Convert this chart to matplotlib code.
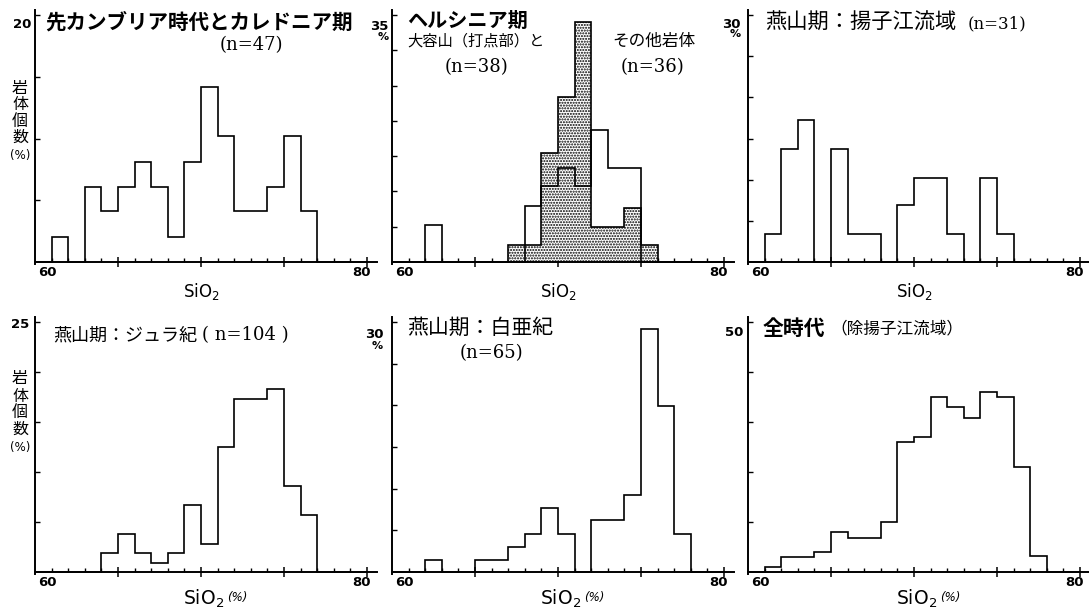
import matplotlib
matplotlib.use("Agg")
import matplotlib.pyplot as plt
import numpy as np

plt.rcParams['font.family'] = ['DejaVu Sans', 'Noto Sans CJK JP']
plt.rcParams['hatch.linewidth'] = 1.0

# ---------------- data (percent of rock bodies per 1 % SiO2 bin) ----------------
edges = list(range(60, 81))   # bins 60-61 ... 79-80
precambrian_caledonian = [0, 2.0, 0, 6.1, 4.1, 6.1, 8.1, 6.1, 2.0, 8.1,
                          14.2, 10.2, 4.1, 4.1, 6.1, 10.2, 4.1, 0, 0, 0]
hercynian_dayongshan = [0, 0, 0, 0, 0, 0, 0, 2.4, 2.4, 15.5,
                        23.4, 34.0, 4.9, 4.9, 7.6, 2.4, 0, 0, 0, 0]
hercynian_others = [0, 0, 5.2, 0, 0, 0, 0, 0, 7.9, 10.7,
                    13.3, 10.7, 18.7, 13.3, 13.3, 0, 0, 0, 0, 0]
yanshan_yangtze = [0, 3.4, 13.7, 17.2, 0, 13.7, 3.4, 3.4, 0, 6.9,
                   10.2, 10.2, 3.4, 0, 10.2, 3.4, 0, 0, 0, 0]
yanshan_jurassic = [0, 0, 0, 0, 1.9, 3.8, 1.9, 0.9, 1.9, 6.7,
                    2.8, 12.5, 17.3, 17.3, 18.3, 8.6, 5.7, 0, 0, 0]
yanshan_cretaceous = [0, 0, 1.5, 0, 0, 1.5, 1.5, 3.0, 4.6, 7.7,
                      4.6, 0, 6.2, 6.2, 9.2, 29.2, 19.9, 4.6, 0, 0]
all_ages = [0, 1.1, 3.0, 3.0, 4.0, 8.1, 6.9, 6.9, 10.1, 26.0,
            27.1, 35.0, 33.0, 30.9, 36.0, 35.0, 21.1, 3.2, 0, 0]

y_max = [20, 35, 30, 25, 30, 50]
y_step = [5, 5, 5, 5, 5, 10]
y_top_label = ["20", "35", "30", "25", "30", "50"]

# ---------------- layout ----------------
W, H = 1089, 611
fig = plt.figure(figsize=(W / 100, H / 100), dpi=100)
JP = 'Noto Sans CJK JP'
SERIF = ['DejaVu Serif', 'Noto Sans CJK JP']
NUM = dict(fontsize=9.5, fontweight='bold')


def fx(px):
    return px / W


def fy(py):
    return 1 - py / H


def ftext(x, y, s, **kw):
    fig.text(fx(x), fy(y), s, **kw)


LW = 1.2
col_x0 = [35, 392, 748]
rows = [(262, 15), (572, 322)]
series = [precambrian_caledonian, None, yanshan_yangtze,
          yanshan_jurassic, yanshan_cretaceous, all_ages]

for i in range(6):
    r, c = divmod(i, 3)
    x0 = col_x0[c]
    y0, yt = rows[r]
    ymax = y_max[i]
    ppu = (y0 - yt) / ymax
    ext_top, ext_bot = 5, 2
    ax = fig.add_axes([fx(x0), fy(y0 + ext_bot), 342 / W,
                       (y0 + ext_bot - (yt - ext_top)) / H])
    ax.set_xlim(60, 80.6)
    ax.set_ylim(-ext_bot / ppu, ymax + ext_top / ppu)
    ax.patch.set_alpha(0)
    for s in ['top', 'right']:
        ax.spines[s].set_visible(False)
    ax.spines['bottom'].set_position(('data', 0))
    ax.spines['left'].set_linewidth(1.4)
    ax.spines['bottom'].set_linewidth(1.4)
    ax.set_xticks([65, 70, 75, 80])
    ax.set_xticks([v for v in range(61, 80) if v % 5], minor=True)
    ax.tick_params(axis='x', which='major', direction='inout', length=7,
                   width=1.1, labelbottom=False)
    ax.tick_params(axis='x', which='minor', direction='in', length=3,
                   width=1.0)
    ax.set_yticks(np.arange(y_step[i], ymax + 0.01, y_step[i]))
    ax.tick_params(axis='y', direction='in', length=3.5, width=1.0,
                   labelleft=False)

    if series[i] is not None:
        ax.stairs(series[i], edges, baseline=0, fill=False,
                  color='black', linewidth=LW, zorder=3)
    else:
        ax.stairs(hercynian_dayongshan, edges, baseline=0, fill=True,
                  facecolor='white', edgecolor='black', hatch='......',
                  linewidth=LW, zorder=2)
        ax.stairs(hercynian_others, edges, baseline=0, fill=False,
                  color='black', linewidth=LW, zorder=3)

    # x tick labels 60 / 80
    ax.annotate("60", xy=(60.75, 0), xytext=(0, -7.5), textcoords='offset points',
                ha='center', va='center', **NUM)
    ax.annotate("80", xy=(79.65, 0), xytext=(0, -7.5), textcoords='offset points',
                ha='center', va='center', **NUM)

# y top labels
ftext(31, 25, y_top_label[0], ha='right', va='center', **NUM)
ftext(388, 27, y_top_label[1], ha='right', va='center', **NUM)
ftext(383, 37, "%", ha='center', va='center', fontsize=8, fontweight='bold')
ftext(741, 24, y_top_label[2], ha='right', va='center', **NUM)
ftext(735, 34, "%", ha='center', va='center', fontsize=8, fontweight='bold')
ftext(29, 325, y_top_label[3], ha='right', va='center', **NUM)
ftext(384, 334, y_top_label[4], ha='right', va='center', **NUM)
ftext(377, 346, "%", ha='center', va='center', fontsize=8, fontweight='bold')
ftext(743, 333, y_top_label[5], ha='right', va='center', **NUM)

# vertical y labels
for ys in ([88, 104, 121, 137, 156], [379, 396, 412, 429, 448]):
    for ch, yy in zip(["岩", "体", "個", "数"], ys[:4]):
        ftext(20, yy, ch, ha='center', va='center', fontsize=11.5, family=JP)
    ftext(20, ys[4], "(%)", ha='center', va='center', fontsize=8.5)

# x labels
for cx in [201, 558, 914]:
    ftext(cx, 292, "SiO$_2$", ha='center', va='center', fontsize=12)
for lx in [183, 540, 896]:
    ftext(lx, 599, "SiO$_2$", ha='left', va='center', fontsize=13.5)
    ftext(lx + 44, 597, "(%)", ha='left', va='center', fontsize=8.5,
          style='italic')

# titles
ftext(45, 22, "先カンブリア時代とカレドニア期", ha='left', va='center',
      fontsize=14.8, fontweight='bold', family=JP)
ftext(251, 45, "(n=47)", ha='center', va='center', fontsize=13, family=SERIF)

ftext(407, 20, "ヘルシニア期", ha='left', va='center', fontsize=14.5,
      fontweight='bold', family=JP)
ftext(407, 41, "大容山（打点部）と", ha='left', va='center', fontsize=11, family=JP)
ftext(477, 67, "(n=38)", ha='center', va='center', fontsize=13, family=SERIF)
ftext(612, 41, "その他岩体", ha='left', va='center', fontsize=12, family=JP)
ftext(653, 67, "(n=36)", ha='center', va='center', fontsize=13, family=SERIF)

ftext(765, 23, "燕山期：揚子江流域", ha='left', va='center', fontsize=15.3,
      family=JP)
ftext(968, 24, "(n=31)", ha='left', va='center', fontsize=12, family=SERIF)

ftext(53, 335, "燕山期：ジュラ紀", ha='left', va='center', fontsize=13,
      family=JP)
ftext(202, 335, "( n=104 )", ha='left', va='center', fontsize=13, family=SERIF)

ftext(407, 328, "燕山期：白亜紀", ha='left', va='center', fontsize=15,
      family=JP)
ftext(491, 353, "(n=65)", ha='center', va='center', fontsize=13, family=SERIF)

ftext(763, 328, "全時代", ha='left', va='center', fontsize=15,
      fontweight='bold', family=JP)
ftext(830, 329, "（除揚子江流域）", ha='left', va='center', fontsize=12, family=JP)

fig.savefig("out.png", dpi=100, facecolor='white')
